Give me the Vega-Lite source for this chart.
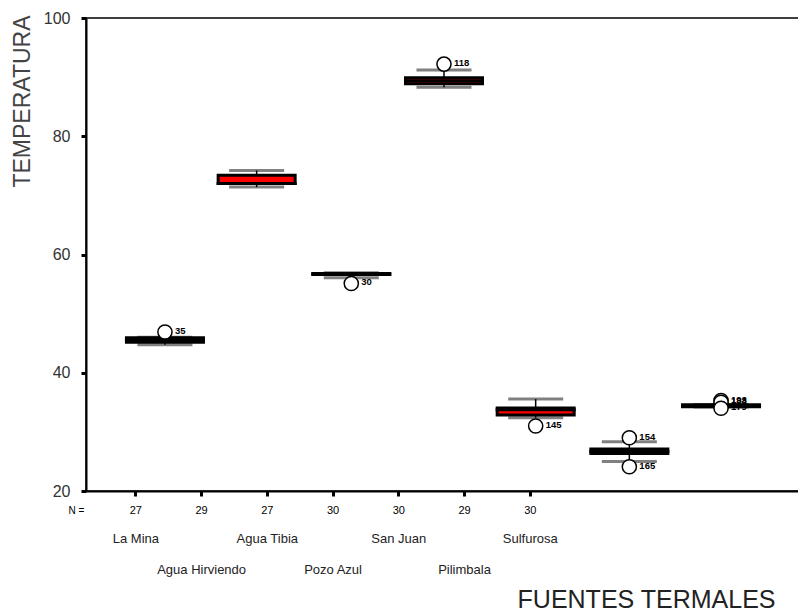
{
  "$schema": "https://vega.github.io/schema/vega-lite/v6.json",
  "width": 713,
  "height": 473,
  "autosize": {"type": "none"},
  "padding": {"left": 86, "top": 18, "right": 0, "bottom": 121},
  "background": "white",
  "config": {
    "view": {"stroke": "black", "strokeWidth": 1.5},
    "font": "Liberation Sans"
  },
  "datasets": {
    "boxes": [
      {"grupo": "La Mina", "n": 27, "pos": 1.45, "lo": 44.75, "q1": 45.17, "med": 45.55, "q3": 45.9, "hi": 46.0},
      {"grupo": "Agua Hirviendo", "n": 29, "pos": 2.845, "lo": 71.4, "q1": 72.0, "med": 72.0, "q3": 73.4, "hi": 74.2},
      {"grupo": "Agua Tibia", "n": 27, "pos": 4.285, "lo": 56.05, "q1": 56.6, "med": 56.7, "q3": 56.8, "hi": 56.9},
      {"grupo": "Pozo Azul", "n": 30, "pos": 5.695, "lo": 88.3, "q1": 88.9, "med": 89.4, "q3": 89.9, "hi": 91.2},
      {"grupo": "San Juan", "n": 30, "pos": 7.09, "lo": 32.4, "q1": 32.85, "med": 33.75, "q3": 34.05, "hi": 35.55},
      {"grupo": "Pilimbala", "n": 29, "pos": 8.515, "lo": 25.0, "q1": 26.35, "med": 26.7, "q3": 27.1, "hi": 28.35},
      {"grupo": "Sulfurosa", "n": 30, "pos": 9.91, "lo": 34.2, "q1": 34.25, "med": 34.4, "q3": 34.6, "hi": 34.65}
    ],
    "outliers": [
      {"grupo": "La Mina", "pos": 1.45, "v": 46.9, "caso": "35"},
      {"grupo": "Agua Tibia", "pos": 4.285, "v": 55.1, "caso": "30"},
      {"grupo": "Pozo Azul", "pos": 5.695, "v": 92.2, "caso": "118"},
      {"grupo": "San Juan", "pos": 7.09, "v": 31.0, "caso": "145"},
      {"grupo": "Pilimbala", "pos": 8.515, "v": 29.0, "caso": "154"},
      {"grupo": "Pilimbala", "pos": 8.515, "v": 24.1, "caso": "165"},
      {"grupo": "Sulfurosa", "pos": 9.91, "v": 35.3, "caso": "193"},
      {"grupo": "Sulfurosa", "pos": 9.91, "v": 35.0, "caso": "188"},
      {"grupo": "Sulfurosa", "pos": 9.91, "v": 34.0, "caso": "179"}
    ]
  },
  "layer": [
    {
      "data": {"name": "boxes"},
      "mark": {"type": "tick", "orient": "horizontal", "color": "#808080", "size": 55, "thickness": 3, "opacity": 1},
      "encoding": {
        "x": {
          "field": "pos", "type": "quantitative",
          "scale": {"domain": [0.325, 11.02], "nice": false, "zero": false},
          "axis": {
            "orient": "bottom",
            "values": [1, 2, 3, 4, 5, 6, 7],
            "labelExpr": "['27','29','27','30','30','29','30'][round(datum.value)-1]",
            "grid": false,
            "domain": true, "domainColor": "black", "domainWidth": 2,
            "ticks": true, "tickColor": "black", "tickWidth": 3, "tickSize": 5,
            "labelFont": "Liberation Sans", "labelFontSize": 11, "labelColor": "black",
            "labelPadding": 8, "labelBaseline": "top", "labelOverlap": false, "labelFlush": false, "labelBound": false,
            "title": "N =", "titleFont": "Liberation Sans", "titleFontSize": 10, "titleFontWeight": "normal",
            "titleColor": "black", "titleX": -10, "titleY": 14, "titleAlign": "center", "titleBaseline": "top", "titleAnchor": "start"
          }
        },
        "y": {
          "field": "lo", "type": "quantitative", "title": "TEMPERATURA",
          "scale": {"domain": [20, 100], "nice": false, "zero": false},
          "axis": {
            "values": [20, 40, 60, 80, 100],
            "grid": false,
            "domainColor": "black", "domainWidth": 2,
            "tickColor": "black", "tickWidth": 3, "tickSize": 5,
            "labelFont": "Liberation Sans", "labelFontSize": 16, "labelColor": "#333333", "labelPadding": 11,
            "labelOverlap": false, "labelFlush": false, "labelBound": false,
            "titleFont": "Liberation Sans", "titleFontSize": 23, "titleFontWeight": "normal", "titleColor": "#444444",
            "titleAnchor": "end", "titleAlign": "right", "titleBaseline": "middle", "titleAngle": -90,
            "titleX": -64, "titleY": -3
          }
        }
      }
    },
    {
      "data": {"name": "boxes"},
      "mark": {"type": "tick", "orient": "horizontal", "color": "#808080", "size": 55, "thickness": 3, "opacity": 1},
      "encoding": {
        "x": {
          "field": "pos", "type": "quantitative",
          "axis": {
            "orient": "bottom",
            "values": [1, 2, 3, 4, 5, 6, 7],
            "labelExpr": "round(datum.value) % 2 == 1 ? ['La Mina','','Agua Tibia','','San Juan','','Sulfurosa'][round(datum.value)-1] : ['', ['','Agua Hirviendo','','Pozo Azul','','Pilimbala'][round(datum.value)-1]]",
            "grid": false, "domain": false, "ticks": false,
            "labelFont": "Liberation Sans", "labelFontSize": 13, "labelColor": "#222222",
            "labelPadding": 41, "labelBaseline": "top", "labelLineHeight": 31,
            "labelOverlap": false, "labelFlush": false, "labelBound": false,
            "title": "FUENTES TERMALES", "titleFont": "Liberation Sans", "titleFontSize": 25, "titleFontWeight": "normal",
            "titleColor": "#222222", "titleX": 689, "titleY": 116, "titleAlign": "right", "titleBaseline": "alphabetic", "titleAnchor": "end"
          }
        },
        "y": {"field": "hi", "type": "quantitative", "title": "TEMPERATURA"}
      }
    },
    {
      "data": {"name": "boxes"},
      "mark": {"type": "rule", "color": "black", "strokeWidth": 1.5},
      "encoding": {
        "x": {"field": "pos", "type": "quantitative", "axis": null},
        "y": {"field": "lo", "type": "quantitative", "title": "TEMPERATURA"},
        "y2": {"field": "hi"}
      }
    },
    {
      "data": {"name": "boxes"},
      "mark": {"type": "bar", "width": 77, "fill": "#ff0000", "stroke": "black", "strokeWidth": 3},
      "encoding": {
        "x": {"field": "pos", "type": "quantitative", "axis": null},
        "y": {"field": "q1", "type": "quantitative", "title": "TEMPERATURA"},
        "y2": {"field": "q3"}
      }
    },
    {
      "data": {"name": "boxes"},
      "mark": {"type": "tick", "orient": "horizontal", "color": "black", "size": 80, "thickness": 3, "opacity": 1},
      "encoding": {
        "x": {"field": "pos", "type": "quantitative", "axis": null},
        "y": {"field": "med", "type": "quantitative", "title": "TEMPERATURA"}
      }
    },
    {
      "data": {"name": "outliers"},
      "mark": {"type": "point", "shape": "circle", "size": 200, "filled": false, "fill": "white", "fillOpacity": 1, "stroke": "black", "strokeWidth": 1.5, "opacity": 1},
      "encoding": {
        "x": {"field": "pos", "type": "quantitative", "axis": null},
        "y": {"field": "v", "type": "quantitative", "title": "TEMPERATURA"}
      }
    },
    {
      "data": {"name": "outliers"},
      "mark": {"type": "text", "align": "left", "baseline": "middle", "dx": 10, "dy": -1, "font": "Liberation Sans", "fontSize": 9.5, "fontWeight": "bold", "color": "black"},
      "encoding": {
        "x": {"field": "pos", "type": "quantitative", "axis": null},
        "y": {"field": "v", "type": "quantitative", "title": "TEMPERATURA"},
        "text": {"field": "caso", "type": "nominal"}
      }
    }
  ],
  "resolve": {"axis": {"x": "independent"}}
}
